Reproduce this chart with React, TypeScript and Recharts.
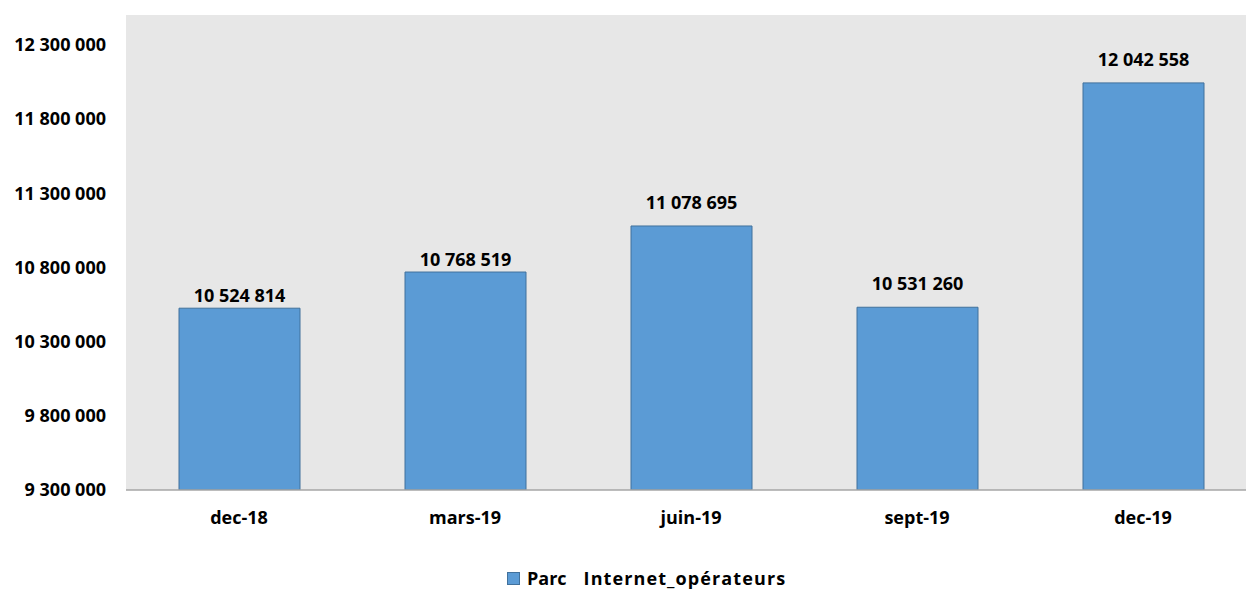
import React from "react";
import { BarChart, Bar, XAxis, YAxis, CartesianGrid, Legend, LabelList } from "recharts";

const periods = ["dec-18", "mars-19", "juin-19", "sept-19", "dec-19"];
const parcInternet = [10524814, 10768519, 11078695, 10531260, 12042558];
const yTicks = [9300000, 9800000, 10300000, 10800000, 11300000, 11800000, 12300000];

const data = periods.map((p, i) => ({ period: p, parc: parcInternet[i] }));

const FONT = "'Open Sans', 'Noto Sans', sans-serif";

function fmt(v: number): string {
  return String(Math.round(v)).replace(/\B(?=(\d{3})+(?!\d))/g, " ");
}

// the original places some labels higher than others
const labelGap = [6, 6, 17, 17, 16.5];

function BarLabel(props: any) {
  const { x, y, width, value, index } = props;
  return (
    <text
      x={x + width / 2}
      y={y - labelGap[index]}
      textAnchor="middle"
      fontFamily={FONT}
      fontWeight={700}
      fontSize={18}
      fill="#000"
    >
      {fmt(value)}
    </text>
  );
}

function LegendContent() {
  return (
    <div
      style={{
        height: 40,
        boxSizing: "border-box",
        paddingTop: 16,
        paddingLeft: 507,
        textAlign: "left",
        fontFamily: FONT,
        fontWeight: 700,
        fontSize: 18,
        color: "#000",
        whiteSpace: "pre",
      }}
    >
      <span
        style={{
          display: "inline-block",
          width: 11,
          height: 11,
          background: "#5b9bd5",
          border: "1px solid #41719c",
          marginRight: 7,
          verticalAlign: "baseline",
        }}
      />
      <span>Parc</span>
      <span style={{ display: "inline-block", width: 17 }} />
      <span style={{ letterSpacing: 1.1 }}>Internet_opérateurs</span>
    </div>
  );
}

export default function App() {
  return (
    <div style={{ position: "absolute", left: 0, top: 0, width: 1246, height: 590, overflow: "hidden", background: "#fff" }}>
      <BarChart width={1257} height={590} data={data} margin={{ top: 15, right: 1, left: 0, bottom: 0 }} barSize={121}>
        <CartesianGrid fill="#e7e7e7" horizontal={false} vertical={false} stroke="none" />
        <XAxis
          dataKey="period"
          height={60}
          axisLine={{ stroke: "#a6a6a6", strokeWidth: 1.5 }}
          tickLine={false}
          tickSize={0}
          tickMargin={21}
          tick={{ fill: "#000", fontSize: 18, fontWeight: 700, fontFamily: FONT }}
        />
        <YAxis
          width={126}
          domain={[9300000, 12500000]}
          ticks={yTicks}
          allowDataOverflow
          axisLine={false}
          tickLine={false}
          tickSize={0}
          tickMargin={20}
          tickFormatter={(v) => fmt(Number(v))}
          tick={{ fill: "#000", fontSize: 18, fontWeight: 700, fontFamily: FONT }}
        />
        <Legend verticalAlign="bottom" height={40} content={() => <LegendContent />} />
        <Bar dataKey="parc" fill="#5b9bd5" stroke="#41719c" strokeWidth={1} isAnimationActive={false}>
          <LabelList dataKey="parc" content={BarLabel} />
        </Bar>
      </BarChart>
    </div>
  );
}
